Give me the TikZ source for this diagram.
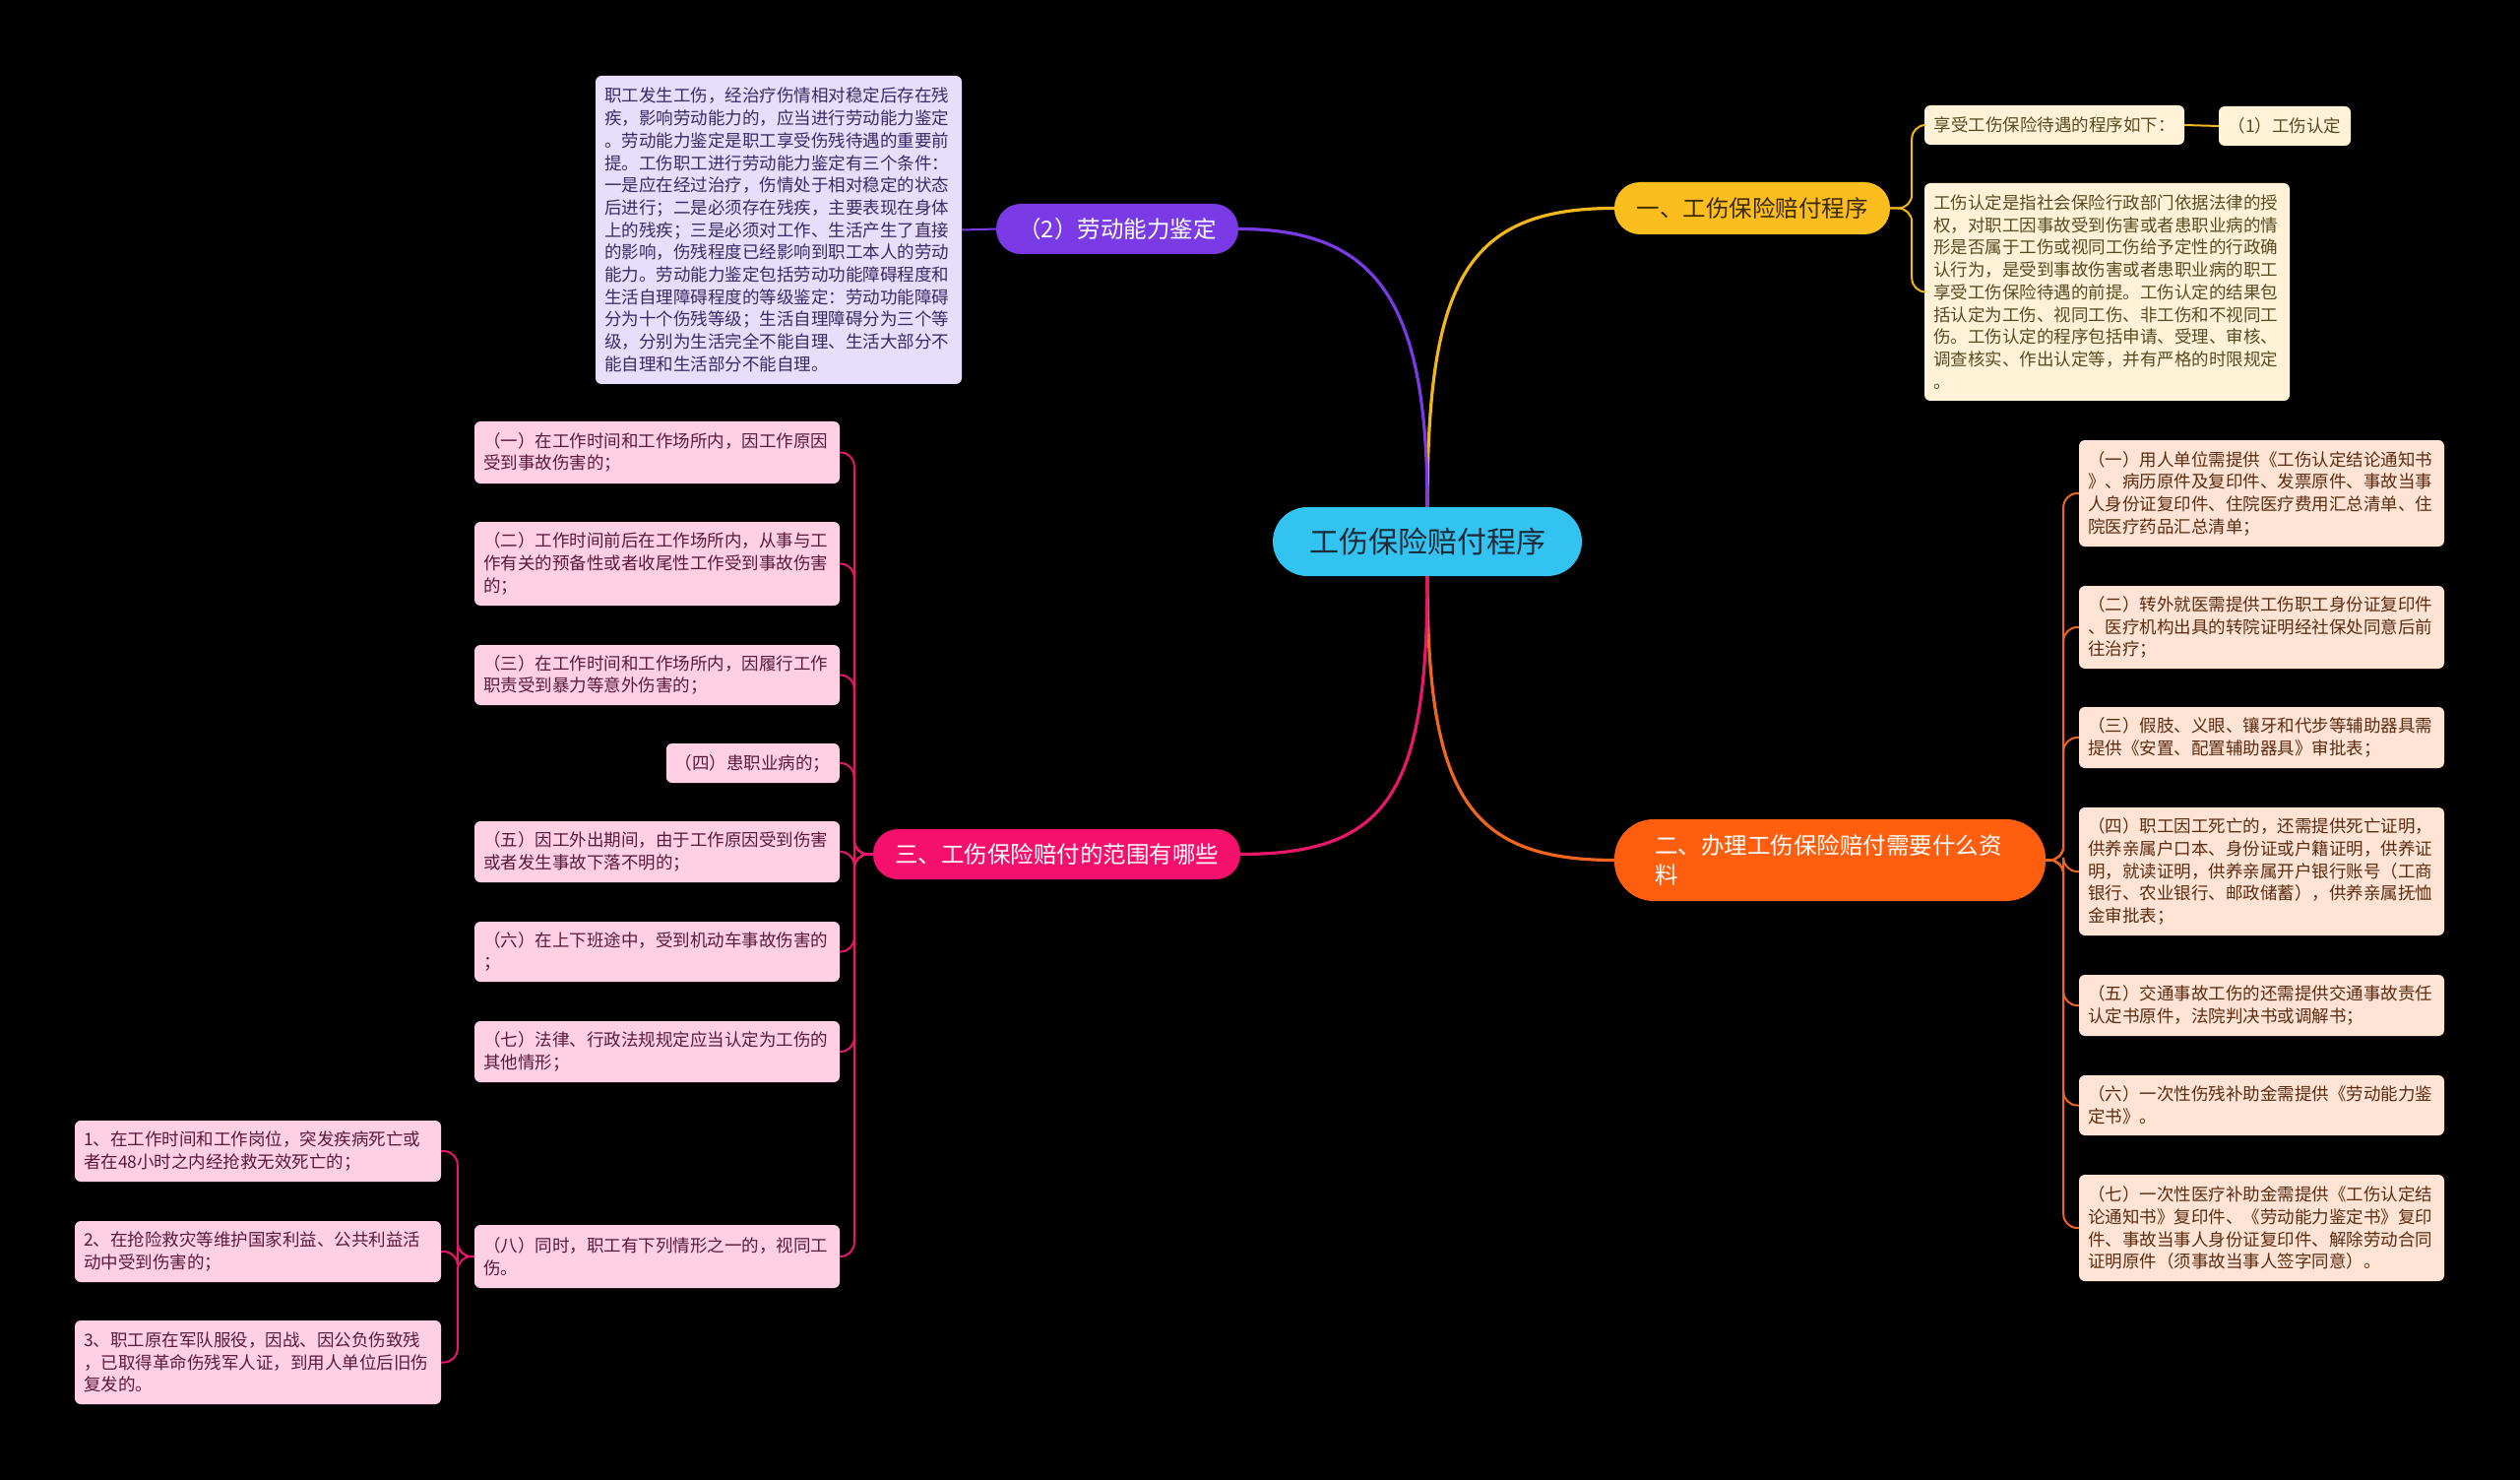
\documentclass[tikz,border=0pt]{standalone}
\usepackage{fontspec}
\setmainfont{Noto Sans CJK SC}
\definecolor{rootc}{HTML}{33C3F0}
\definecolor{roottext}{HTML}{1A2B3A}
\definecolor{yel}{HTML}{FBBE1E}
\definecolor{yelline}{HTML}{F2B71A}
\definecolor{yeltext}{HTML}{3A2A05}
\definecolor{yelfill}{HTML}{FFF2D6}
\definecolor{yelbody}{HTML}{5A4A22}
\definecolor{ora}{HTML}{FF5E0E}
\definecolor{oraline}{HTML}{F0661E}
\definecolor{orafill}{HTML}{FFE3D4}
\definecolor{orabody}{HTML}{5C2C12}
\definecolor{pnk}{HTML}{F5106B}
\definecolor{pnkline}{HTML}{E8176A}
\definecolor{pnkfill}{HTML}{FFD0E4}
\definecolor{pnkbody}{HTML}{5A1A3A}
\definecolor{pur}{HTML}{7A3BE6}
\definecolor{purfill}{HTML}{E7DEFB}
\definecolor{purbody}{HTML}{3A2A66}
\begin{document}
\begin{tikzpicture}[x=1pt,y=-1pt,
  box/.style={rectangle, rounded corners=6pt, inner xsep=9pt, inner ysep=0pt, align=left,
    font=\fontsize{17.5}{22.7}\selectfont},
  ybox/.style={box, fill=yelfill, text=yelbody},
  obox/.style={box, fill=orafill, text=orabody, text width=353pt},
  pbox/.style={box, fill=pnkfill, text=pnkbody, text width=353pt},
  branch/.style={rectangle, inner sep=0pt, align=left, font=\fontsize{23.5}{30}\selectfont},
  mainline/.style={line width=3.2pt},
  childline/.style={line width=2pt, rounded corners=14pt}
]
\fill[black] (0,0) rectangle (2560,1503);
\useasboundingbox (0,0) rectangle (2560,1503);

% root
\node[rectangle, rounded corners=35pt, fill=rootc, text=roottext, minimum width=314pt, minimum height=70pt,
  font=\fontsize{30}{36}\selectfont] (root) at (1450,550) {工伤保险赔付程序};

% branches
\node[branch, fill=yel, text=yeltext, rounded corners=26pt, minimum width=280pt, minimum height=53pt, align=center] (b1) at (1780,211.5) {一、工伤保险赔付程序};
\node[branch, fill=ora, text=white, rounded corners=40pt, text width=356pt, inner xsep=41pt, minimum height=83pt] (b2) at (1859,873.5) {二、办理工伤保险赔付需要什么资\\料};
\node[branch, fill=pnk, text=white, rounded corners=25pt, minimum width=373pt, minimum height=51pt, align=center] (b3) at (1073.5,867.5) {三、工伤保险赔付的范围有哪些};
\node[branch, fill=pur, text=white, rounded corners=25pt, minimum width=246pt, minimum height=51pt, align=center] (b4) at (1135,232.5) {（2）劳动能力鉴定};

% purple text
\node[box, fill=purfill, text=purbody, text width=354pt, minimum height=313pt] (pt) at (791,233.5) {职工发生工伤，经治疗伤情相对稳定后存在残\\疾，影响劳动能力的，应当进行劳动能力鉴定\\。劳动能力鉴定是职工享受伤残待遇的重要前\\提。工伤职工进行劳动能力鉴定有三个条件：\\一是应在经过治疗，伤情处于相对稳定的状态\\后进行；二是必须存在残疾，主要表现在身体\\上的残疾；三是必须对工作、生活产生了直接\\的影响，伤残程度已经影响到职工本人的劳动\\能力。劳动能力鉴定包括劳动功能障碍程度和\\生活自理障碍程度的等级鉴定：劳动功能障碍\\分为十个伤残等级；生活自理障碍分为三个等\\级，分别为生活完全不能自理、生活大部分不\\能自理和生活部分不能自理。};

% yellow children
\node[ybox, minimum width=264pt, minimum height=40pt, align=center] (y1) at (2087,127) {享受工伤保险待遇的程序如下：};
\node[ybox, minimum width=134pt, minimum height=40pt, align=center] (y3) at (2321,128) {（1）工伤认定};
\node[ybox, text width=353pt, minimum height=221pt] (y2) at (2140.5,296.5) {工伤认定是指社会保险行政部门依据法律的授\\权，对职工因事故受到伤害或者患职业病的情\\形是否属于工伤或视同工伤给予定性的行政确\\认行为，是受到事故伤害或者患职业病的职工\\享受工伤保险待遇的前提。工伤认定的结果包\\括认定为工伤、视同工伤、非工伤和不视同工\\伤。工伤认定的程序包括申请、受理、审核、\\调查核实、作出认定等，并有严格的时限规定\\。};

% orange children
\node[obox, minimum height=108pt] (o1) at (2297.5,501) {（一）用人单位需提供《工伤认定结论通知书\\》、病历原件及复印件、发票原件、事故当事\\人身份证复印件、住院医疗费用汇总清单、住\\院医疗药品汇总清单；};
\node[obox, minimum height=84pt] (o2) at (2297.5,637) {（二）转外就医需提供工伤职工身份证复印件\\、医疗机构出具的转院证明经社保处同意后前\\往治疗；};
\node[obox, minimum height=62pt] (o3) at (2297.5,749) {（三）假肢、义眼、镶牙和代步等辅助器具需\\提供《安置、配置辅助器具》审批表；};
\node[obox, minimum height=130pt] (o4) at (2297.5,885) {（四）职工因工死亡的，还需提供死亡证明，\\供养亲属户口本、身份证或户籍证明，供养证\\明，就读证明，供养亲属开户银行账号（工商\\银行、农业银行、邮政储蓄），供养亲属抚恤\\金审批表；};
\node[obox, minimum height=62pt] (o5) at (2297.5,1021) {（五）交通事故工伤的还需提供交通事故责任\\认定书原件，法院判决书或调解书；};
\node[obox, minimum height=61pt] (o6) at (2297.5,1122.5) {（六）一次性伤残补助金需提供《劳动能力鉴\\定书》。};
\node[obox, minimum height=108pt] (o7) at (2297.5,1247) {（七）一次性医疗补助金需提供《工伤认定结\\论通知书》复印件、《劳动能力鉴定书》复印\\件、事故当事人身份证复印件、解除劳动合同\\证明原件（须事故当事人签字同意）。};

% pink children
\node[pbox, minimum height=63pt] (p1) at (667.5,459.5) {（一）在工作时间和工作场所内，因工作原因\\受到事故伤害的；};
\node[pbox, minimum height=85pt] (p2) at (667.5,572.5) {（二）工作时间前后在工作场所内，从事与工\\作有关的预备性或者收尾性工作受到事故伤害\\的；};
\node[pbox, minimum height=61pt] (p3) at (667.5,685.5) {（三）在工作时间和工作场所内，因履行工作\\职责受到暴力等意外伤害的；};
\node[box, fill=pnkfill, text=pnkbody, text width=158pt, minimum height=40pt, anchor=east] (p4) at (853,775) {（四）患职业病的；};
\node[pbox, minimum height=62pt] (p5) at (667.5,865) {（五）因工外出期间，由于工作原因受到伤害\\或者发生事故下落不明的；};
\node[pbox, minimum height=61pt] (p6) at (667.5,966.5) {（六）在上下班途中，受到机动车事故伤害的\\；};
\node[pbox, minimum height=62pt] (p7) at (667.5,1068) {（七）法律、行政法规规定应当认定为工伤的\\其他情形；};
\node[pbox, minimum height=64pt] (p8) at (667.5,1276) {（八）同时，职工有下列情形之一的，视同工\\伤。};

\node[pbox, text width=354pt, minimum height=62pt] (s1) at (262,1169) {1、在工作时间和工作岗位，突发疾病死亡或\\者在48小时之内经抢救无效死亡的；};
\node[pbox, text width=354pt, minimum height=62pt] (s2) at (262,1271) {2、在抢险救灾等维护国家利益、公共利益活\\动中受到伤害的；};
\node[pbox, text width=354pt, minimum height=85pt] (s3) at (262,1383.5) {3、职工原在军队服役，因战、因公负伤致残\\，已取得革命伤残军人证，到用人单位后旧伤\\复发的。};

% main connectors
\draw[mainline, yelline] (root.north) .. controls +(0,-230) and +(-150,0) .. (b1.west);
\draw[mainline, pur] (root.north) .. controls +(0,-210) and +(140,0) .. (b4.east);
\draw[mainline, oraline] (root.south) .. controls +(0,220) and +(-150,0) .. (b2.west);
\draw[mainline, pnkline] (root.south) .. controls +(0,220) and +(150,0) .. (b3.east);

% purple child
\draw[childline, pur] (b4.west) -- (pt.east);

% yellow children
\draw[childline, yelline] (b1.east) -- ++(22,0) |- (y1.west);
\draw[childline, yelline] (b1.east) -- ++(22,0) |- (y2.west);
\draw[childline, yelline] (y1.east) -- (y3.west);

% orange children
\foreach \n in {o1,o2,o3,o4,o5,o6,o7}
  \draw[childline, oraline] (b2.east) -- ++(18,0) |- (\n.west);

% pink children
\foreach \n in {p1,p2,p3,p4,p5,p6,p7,p8}
  \draw[childline, pnkline] (b3.west) -- ++(-19,0) |- (\n.east);
\foreach \n in {s1,s2,s3}
  \draw[childline, pnkline] (p8.west) -- ++(-17,0) |- (\n.east);
\end{tikzpicture}
\end{document}
